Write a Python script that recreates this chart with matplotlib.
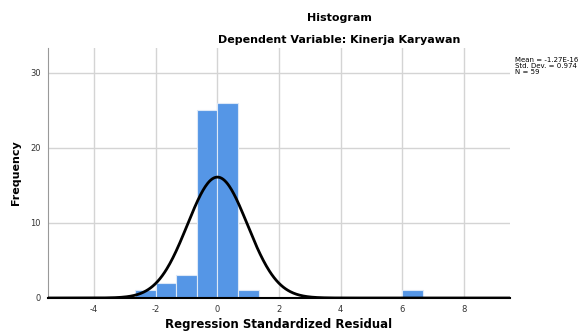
import numpy as np
import matplotlib.pyplot as plt

plt.rcParams['axes.unicode_minus'] = False

bin_width = 2 / 3
bin_lefts = [-8 / 3, -2.0, -4 / 3, -2 / 3, 0.0, 2 / 3, 6.0]
counts = [1, 2, 3, 25, 26, 1, 1]

mean = -1.27e-16
std_dev = 0.974
n_obs = 59

x_ticks = [-4, -2, 0, 2, 4, 6, 8]
y_ticks = [0, 10, 20, 30]

fig = plt.figure(figsize=(5.85, 3.31), dpi=100)
ax = fig.add_axes([0.082, 0.0997, 0.79, 0.755])

ax.bar(bin_lefts, counts, width=bin_width, align='edge', color='#5596e6',
       edgecolor='#dce8f7', linewidth=0.8, zorder=2)

# normal curve scaled to the histogram
xs = np.linspace(-5.5, 9.5, 600)
ys = n_obs * bin_width * np.exp(-0.5 * ((xs - mean) / std_dev) ** 2) / (std_dev * np.sqrt(2 * np.pi))
ax.plot(xs, ys, color='black', linewidth=2, zorder=3)

ax.set_xlim(-5.5, 9.5)
ax.set_ylim(0, 33.3)
ax.set_xticks(x_ticks)
ax.set_yticks(y_ticks)
ax.tick_params(length=0, labelsize=6, colors='#333333')
ax.tick_params(axis='x', pad=5)
ax.tick_params(axis='y', pad=5)
ax.grid(True, color='#d4d4d4', linewidth=1, zorder=0)
ax.set_axisbelow(True)

for side in ['top', 'right']:
    ax.spines[side].set_visible(False)
ax.spines['left'].set_color('#999999')
ax.spines['bottom'].set_color('black')
ax.spines['bottom'].set_linewidth(1.5)

ax.set_xlabel('Regression Standardized Residual', fontsize=8.5, fontweight='bold', labelpad=3)
ax.set_ylabel('Frequency', fontsize=8, fontweight='bold', labelpad=7)

fig.text(0.58, 0.945, 'Histogram', ha='center', va='center', fontsize=8, fontweight='bold')
fig.text(0.58, 0.878, 'Dependent Variable: Kinerja Karyawan', ha='center', va='center',
         fontsize=8, fontweight='bold')

fig.text(0.881, 0.80, f'Mean = -1.27E-16\nStd. Dev. = {std_dev}\nN = {n_obs}',
         ha='left', va='center', fontsize=5, linespacing=0.95)

fig.savefig('out.png', dpi=100)
